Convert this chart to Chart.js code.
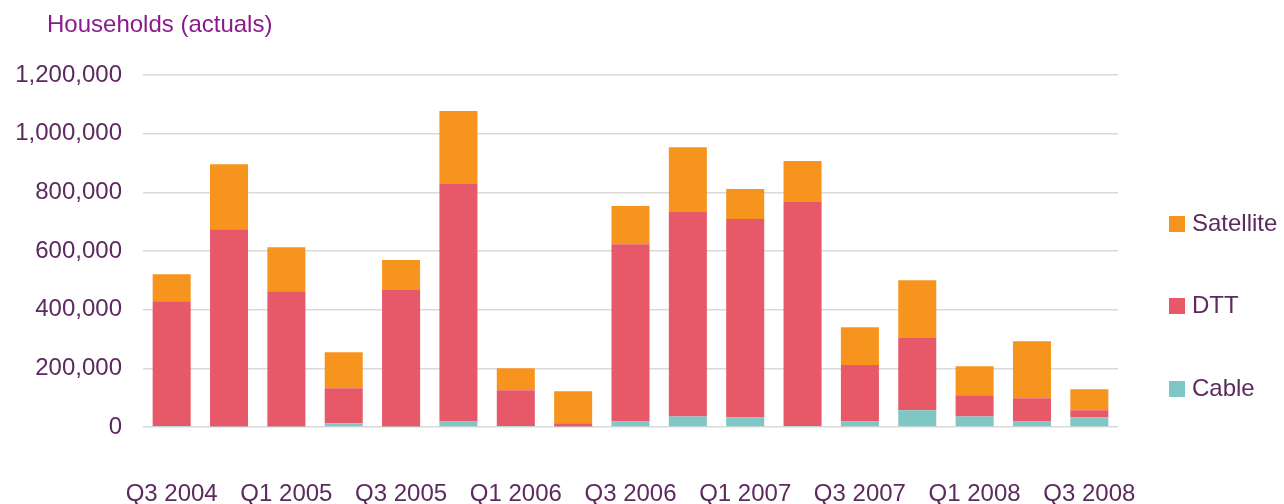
<!DOCTYPE html>
<html>
<head>
<meta charset="utf-8">
<script src="https://cdn.jsdelivr.net/npm/chart.js@4.4.1/dist/chart.umd.min.js"></script>
<style>
  body { margin: 0; background: #fff; }
  #wrap { position: relative; width: 1284px; height: 504px; font-family: "Liberation Sans", Arial, sans-serif; }
  #title { position: absolute; left: 47px; top: 10px; font-size: 24px; line-height: 28px; color: #8c1a8c; }
  .leg { position: absolute; left: 1169px; font-size: 24px; line-height: 28px; color: #5c2a5e; white-space: nowrap; }
  .leg span { display: inline-block; width: 16px; height: 16px; margin-right: 7px; vertical-align: -1px; }
</style>
</head>
<body>
<div id="wrap">
  <canvas id="myChart" width="1284" height="504"></canvas>
  <div id="title">Households (actuals)</div>
  <div id="legend"></div>
</div>
<script>
// quarters on the x axis, only every second one is labelled
const quarters = ['Q3 2004', 'Q4 2004', 'Q1 2005', 'Q2 2005', 'Q3 2005', 'Q4 2005', 'Q1 2006', 'Q2 2006',
  'Q3 2006', 'Q4 2006', 'Q1 2007', 'Q2 2007', 'Q3 2007', 'Q4 2007', 'Q1 2008', 'Q2 2008', 'Q3 2008'];

const cable = [3000, 2000, 2000, 13000, 2000, 19000, 3000, 2000, 19000, 36000, 33000, 3000, 19000, 57000, 36000, 19000, 33000];
const dtt = [426000, 672000, 461000, 119000, 465000, 809000, 122000, 11000, 604000, 697000, 676000, 764000, 192000, 246000, 72000, 79000, 24000];
const satellite = [92000, 222000, 150000, 123000, 102000, 249000, 75000, 109000, 130000, 221000, 102000, 140000, 129000, 197000, 99000, 194000, 72000];

const yTicks = [0, 200000, 400000, 600000, 800000, 1000000, 1200000];

const colors = { Cable: '#7fc7c5', DTT: '#e75869', Satellite: '#f7941d' };
const textColor = '#5c2a5e';

Chart.defaults.font.family = '"Liberation Sans", Arial, sans-serif';
Chart.defaults.font.size = 24;
Chart.defaults.color = textColor;

const data = {
  labels: quarters,
  datasets: [
    { label: 'Cable', data: cable, backgroundColor: colors.Cable },
    { label: 'DTT', data: dtt, backgroundColor: colors.DTT },
    { label: 'Satellite', data: satellite, backgroundColor: colors.Satellite }
  ]
};

// config
const config = {
  type: 'bar',
  data,
  options: {
    responsive: false,
    animation: false,
    datasets: {
      bar: { barPercentage: 0.663, categoryPercentage: 1 }
    },
    layout: { padding: { left: 0, right: 166, top: 75, bottom: 0 } },
    plugins: {
      legend: { display: false },
      tooltip: { enabled: false }
    },
    scales: {
      x: {
        stacked: true,
        grid: { display: false },
        border: { display: false },
        ticks: {
          autoSkip: false,
          maxRotation: 0,
          padding: 45,
          callback: (value, index) => index % 2 === 0 ? quarters[index] : ''
        },
        afterFit: (scale) => { scale.height = 77; }
      },
      y: {
        stacked: true,
        min: 0,
        max: 1200000,
        afterBuildTicks: (scale) => { scale.ticks = yTicks.map(v => ({ value: v })); },
        grid: { color: '#d9d9d9', lineWidth: 1.5, drawTicks: false },
        border: { display: false },
        ticks: {
          padding: 21,
          callback: (value) => value.toLocaleString('en-US')
        },
        afterFit: (scale) => { scale.width = 143; }
      }
    }
  }
};

const myChart = new Chart(document.getElementById('myChart').getContext('2d'), config);

// legend on the right, top to bottom: Satellite, DTT, Cable
const legendTops = { Satellite: 209, DTT: 291, Cable: 374 };
const legend = document.getElementById('legend');
['Satellite', 'DTT', 'Cable'].forEach(name => {
  const d = document.createElement('div');
  d.className = 'leg';
  d.style.top = legendTops[name] + 'px';
  d.innerHTML = '<span style="background:' + colors[name] + '"></span>' + name;
  legend.appendChild(d);
});
</script>
</body>
</html>
